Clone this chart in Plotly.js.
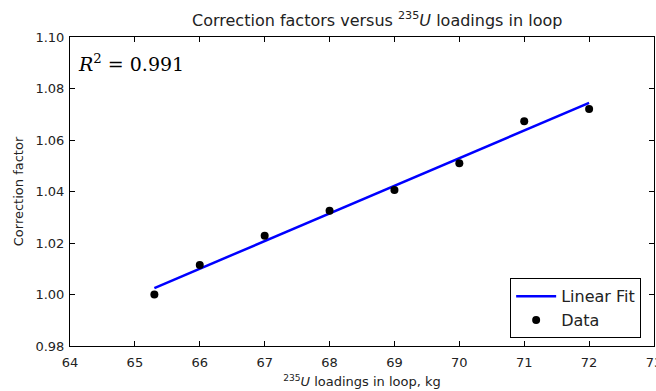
<!DOCTYPE html>
<html>
<head>
<meta charset="utf-8">
<script src="https://cdn.plot.ly/plotly-3.0.1.min.js"></script>
<style>html,body{margin:0;padding:0;background:#fff;}#chart{width:656px;height:391px;}</style>
</head>
<body>
<div id="chart"></div>
<script>
const loadings = [65.3, 66, 67, 68, 69, 70, 71, 72];
const factors = [1.000, 1.0115, 1.0228, 1.0325, 1.0406, 1.0510, 1.0673, 1.0720];
const fitX = [65.3, 72];
const fitY = [1.0025, 1.0744];
const xTicks = [64, 65, 66, 67, 68, 69, 70, 71, 72, 73];
const yTicks = [0.98, 1.00, 1.02, 1.04, 1.06, 1.08, 1.10];

const font = 'DejaVu Sans, sans-serif';
const traces = [
  {x: fitX, y: fitY, mode: 'lines', name: 'Linear Fit',
   line: {color: '#0000ff', width: 2.5}},
  {x: loadings, y: factors, mode: 'markers', name: 'Data',
   marker: {color: '#000000', size: 8}}
];
const axisCommon = {
  showgrid: false, zeroline: false, showline: true, linecolor: '#000', linewidth: 1,
  mirror: 'ticks', ticks: 'inside', ticklen: 5, tickcolor: '#000',
  ticklabeloverflow: 'allow',
  tickfont: {family: font, size: 13, color: '#222'}
};
const layout = {
  width: 656, height: 391,
  margin: {l: 70, r: 2, t: 37, b: 45},
  paper_bgcolor: '#fff', plot_bgcolor: '#fff',
  title: {text: 'Correction factors versus <sup>235</sup><i>U</i> loadings in loop',
          font: {family: font, size: 16, color: '#222'}, x: 0.575, xanchor: 'center', y: 0.948, yanchor: 'middle'},
  xaxis: Object.assign({}, axisCommon, {
    range: [64, 73], tickvals: xTicks, ticktext: xTicks.map(String), ticklabelstandoff: 4,
    title: {text: '<sup>235</sup><i>U</i> loadings in loop, kg', font: {family: font, size: 13, color: '#222'}, standoff: 8}
  }),
  yaxis: Object.assign({}, axisCommon, {
    range: [0.98, 1.10], tickvals: yTicks, ticktext: yTicks.map(v => v.toFixed(2)), ticklabelstandoff: 2,
    title: {text: 'Correction factor', font: {family: font, size: 13, color: '#222'}, standoff: 8}
  }),
  showlegend: true,
  legend: {x: 0.978, y: 0.025, xanchor: 'right', yanchor: 'bottom',
           bgcolor: '#fff', bordercolor: '#000', borderwidth: 1, itemwidth: 40,
           font: {family: font, size: 16, color: '#222'}},
  annotations: [{
    text: '<i>R</i><sup>2</sup> = 0.991', xref: 'paper', yref: 'paper', x: 0.01, y: 0.96,
    xanchor: 'left', yanchor: 'top', showarrow: false,
    font: {family: 'DejaVu Serif, serif', size: 19, color: '#000'}
  }]
};
Plotly.newPlot('chart', traces, layout, {displayModeBar: false, staticPlot: true});
</script>
</body>
</html>
